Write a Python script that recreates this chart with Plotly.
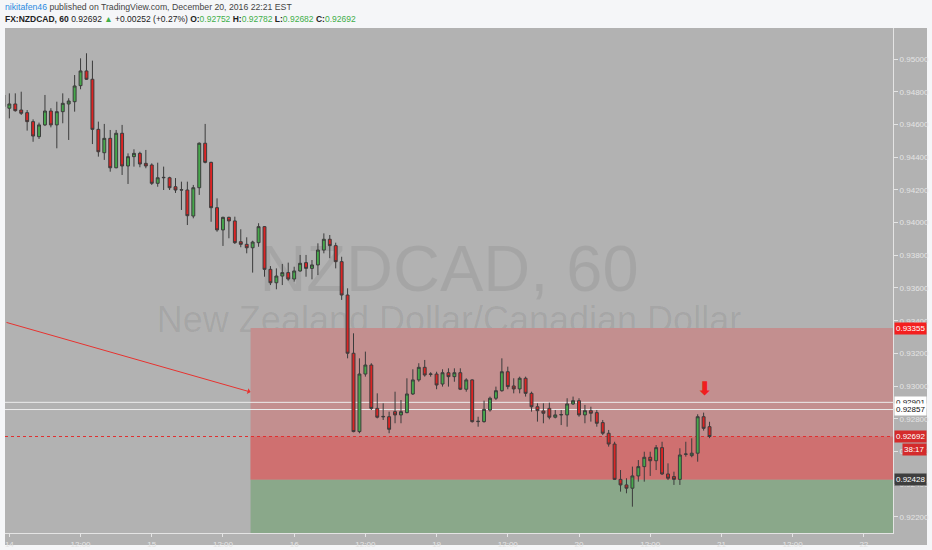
import pandas as pd
import plotly.graph_objects as go

# ---------------- data ----------------
session1 = pd.date_range("2016-12-13 23:00", "2016-12-16 16:00", freq="h")
session2 = pd.date_range("2016-12-18 17:00", "2016-12-20 22:00", freq="h")
times = list(session1) + list(session2)

open_ = [0.94780, 0.94699, 0.94725, 0.94688, 0.94672, 0.94617, 0.94525, 0.94597, 0.94682, 0.94597,
         0.94678, 0.94725, 0.94739, 0.94837, 0.94927, 0.94876, 0.94570, 0.94427, 0.94515, 0.94335,
         0.94546, 0.94346, 0.94403, 0.94423, 0.94362, 0.94352, 0.94240, 0.94274, 0.94274, 0.94219,
         0.94201, 0.94199, 0.94040, 0.94213, 0.94485, 0.94368, 0.94091, 0.93955, 0.94032, 0.94010,
         0.93883, 0.93867, 0.93846, 0.93877, 0.93975, 0.93714, 0.93632, 0.93673, 0.93694, 0.93655,
         0.93704, 0.93755, 0.93720, 0.93741, 0.93832, 0.93898, 0.93859, 0.93761, 0.93557, 0.93201,
         0.92722, 0.93074, 0.93129, 0.92864, 0.92815, 0.92813, 0.92844, 0.92824, 0.92838, 0.92952,
         0.93038, 0.93115, 0.93072, 0.93074, 0.93013, 0.93082, 0.93058, 0.93082, 0.92981, 0.93038,
         0.92783, 0.92783, 0.92854, 0.92926, 0.92972, 0.93088, 0.93001, 0.92983, 0.93048, 0.92956,
         0.92874, 0.92848, 0.92864, 0.92810, 0.92824, 0.92824, 0.92891, 0.92911, 0.92824, 0.92850,
         0.92838, 0.92777, 0.92712, 0.92646, 0.92430, 0.92396, 0.92376, 0.92451, 0.92508, 0.92565,
         0.92544, 0.92624, 0.92463, 0.92447, 0.92430, 0.92583, 0.92575, 0.92590, 0.92813, 0.92752]
high = [0.94792, 0.94790, 0.94790, 0.94800, 0.94688, 0.94631, 0.94611, 0.94780, 0.94699, 0.94739,
        0.94790, 0.94760, 0.94902, 0.95004, 0.95035, 0.94990, 0.94617, 0.94603, 0.94566, 0.94566,
        0.94597, 0.94423, 0.94448, 0.94433, 0.94444, 0.94362, 0.94366, 0.94342, 0.94280, 0.94272,
        0.94250, 0.94250, 0.94230, 0.94490, 0.94603, 0.94372, 0.94148, 0.94036, 0.94036, 0.94036,
        0.93959, 0.93910, 0.93889, 0.93996, 0.93979, 0.93734, 0.93720, 0.93747, 0.93755, 0.93730,
        0.93802, 0.93802, 0.93771, 0.93873, 0.93934, 0.93924, 0.93877, 0.93791, 0.93598, 0.93323,
        0.93170, 0.93211, 0.93140, 0.92956, 0.92895, 0.92844, 0.92966, 0.92915, 0.93048, 0.93103,
        0.93140, 0.93160, 0.93085, 0.93088, 0.93103, 0.93109, 0.93109, 0.93109, 0.93048, 0.93042,
        0.92813, 0.92911, 0.92936, 0.92997, 0.93170, 0.93119, 0.93048, 0.93058, 0.93058, 0.92966,
        0.92895, 0.92895, 0.92899, 0.92854, 0.92854, 0.92926, 0.92936, 0.92926, 0.92885, 0.92874,
        0.92854, 0.92793, 0.92732, 0.92660, 0.92487, 0.92437, 0.92508, 0.92548, 0.92599, 0.92599,
        0.92640, 0.92660, 0.92528, 0.92477, 0.92620, 0.92660, 0.92681, 0.92828, 0.92838, 0.92782]
low = [0.94700, 0.94637, 0.94678, 0.94658, 0.94562, 0.94494, 0.94511, 0.94590, 0.94582, 0.94454,
       0.94607, 0.94505, 0.94678, 0.94815, 0.94872, 0.94480, 0.94403, 0.94383, 0.94311, 0.94332,
       0.94291, 0.94236, 0.94342, 0.94338, 0.94332, 0.94230, 0.94219, 0.94199, 0.94199, 0.94181,
       0.94077, 0.93985, 0.94026, 0.94169, 0.94362, 0.94005, 0.93944, 0.93857, 0.93904, 0.93869,
       0.93849, 0.93812, 0.93694, 0.93852, 0.93669, 0.93618, 0.93592, 0.93618, 0.93645, 0.93639,
       0.93700, 0.93669, 0.93653, 0.93679, 0.93812, 0.93782, 0.93720, 0.93527, 0.93170, 0.92718,
       0.92712, 0.93058, 0.92854, 0.92803, 0.92793, 0.92712, 0.92773, 0.92773, 0.92834, 0.92946,
       0.93027, 0.93058, 0.93058, 0.92981, 0.92997, 0.92997, 0.93027, 0.92976, 0.92966, 0.92777,
       0.92752, 0.92777, 0.92844, 0.92915, 0.92966, 0.92981, 0.92956, 0.92956, 0.92936, 0.92844,
       0.92783, 0.92773, 0.92797, 0.92803, 0.92762, 0.92752, 0.92885, 0.92813, 0.92773, 0.92783,
       0.92752, 0.92701, 0.92630, 0.92426, 0.92355, 0.92345, 0.92263, 0.92416, 0.92416, 0.92451,
       0.92487, 0.92457, 0.92426, 0.92396, 0.92396, 0.92569, 0.92565, 0.92538, 0.92728, 0.92682]
close = [0.94708, 0.94725, 0.94684, 0.94668, 0.94617, 0.94529, 0.94597, 0.94682, 0.94597, 0.94678,
         0.94729, 0.94743, 0.94835, 0.94927, 0.94876, 0.94570, 0.94433, 0.94515, 0.94335, 0.94546,
         0.94346, 0.94403, 0.94423, 0.94358, 0.94346, 0.94240, 0.94274, 0.94276, 0.94213, 0.94199,
         0.94199, 0.94042, 0.94213, 0.94485, 0.94368, 0.94091, 0.93955, 0.94032, 0.94010, 0.93877,
         0.93867, 0.93846, 0.93881, 0.93975, 0.93714, 0.93632, 0.93673, 0.93694, 0.93655, 0.93704,
         0.93751, 0.93720, 0.93741, 0.93832, 0.93898, 0.93859, 0.93761, 0.93557, 0.93201, 0.92722,
         0.93074, 0.93129, 0.92864, 0.92810, 0.92813, 0.92736, 0.92824, 0.92844, 0.92952, 0.93038,
         0.93115, 0.93068, 0.93074, 0.93007, 0.93082, 0.93058, 0.93082, 0.92981, 0.93038, 0.92783,
         0.92785, 0.92858, 0.92926, 0.92972, 0.93088, 0.92997, 0.92983, 0.93048, 0.92956, 0.92874,
         0.92850, 0.92834, 0.92810, 0.92824, 0.92826, 0.92891, 0.92911, 0.92824, 0.92850, 0.92834,
         0.92773, 0.92712, 0.92646, 0.92430, 0.92396, 0.92376, 0.92451, 0.92508, 0.92565, 0.92544,
         0.92624, 0.92463, 0.92437, 0.92430, 0.92579, 0.92585, 0.92590, 0.92813, 0.92742, 0.92692]

tick_times = ["2016-12-14 00:00", "2016-12-14 12:00", "2016-12-15 00:00", "2016-12-15 12:00",
              "2016-12-16 00:00", "2016-12-16 12:00", "2016-12-19 00:00", "2016-12-19 12:00",
              "2016-12-20 00:00", "2016-12-20 12:00", "2016-12-21 00:00", "2016-12-21 12:00",
              "2016-12-22 00:00"]
tick_labels = ["14", "12:00", "15", "12:00", "16", "12:00", "19", "12:00", "20", "12:00",
               "21", "12:00", "22"]
price_ticks = [0.922, 0.924, 0.926, 0.928, 0.930, 0.932, 0.934, 0.936, 0.938, 0.940,
               0.942, 0.944, 0.946, 0.948, 0.950]

stop_price = 0.93355
level_a = 0.92901
level_b = 0.92857
last_price = 0.92692
entry_price = 0.92428
target_price = 0.91800
countdown = "38:17"
zone_start = "2016-12-15 16:39"
zone_end = "2016-12-23 00:00"
trend_from = ("2016-12-13 23:16", 0.93392)
trend_to = ("2016-12-15 16:39", 0.92964)
signal_at = ("2016-12-20 21:10", 0.92990)

x_range = ["2016-12-13 23:16", "2016-12-22 04:55"]
y_range = [0.921021, 0.951895]

# ---------------- figure ----------------
BG = "#b2b2b2"
AXC = "#e4e4e4"
FONT = "Liberation Sans"

fig = go.Figure()
fig.add_trace(go.Candlestick(
    x=times, open=open_, high=high, low=low, close=close,
    increasing=dict(fillcolor="#46a84b", line=dict(color="#3c3c3c", width=1)),
    decreasing=dict(fillcolor="#dc2424", line=dict(color="#3c3c3c", width=1)),
    whiskerwidth=0, hoverinfo="skip", showlegend=False))

shapes = [
    dict(type="rect", xref="paper", yref="paper", x0=0, x1=1.0383, y0=-0.0238, y1=1,
         fillcolor=BG, line=dict(width=0), layer="below"),
    dict(type="rect", xref="paper", yref="paper", x0=0.2, x1=0.8, y0=0.4847, y1=0.5847,
         line=dict(width=0), fillcolor="rgba(0,0,0,0)", layer="below",
         label=dict(text="NZDCAD, 60", textposition="middle center",
                    font=dict(size=65, color="rgba(0,0,0,0.07)", family=FONT))),
    dict(type="rect", xref="paper", yref="paper", x0=0.1, x1=0.9, y0=0.3997, y1=0.4597,
         line=dict(width=0), fillcolor="rgba(0,0,0,0)", layer="below",
         label=dict(text="New Zealand Dollar/Canadian Dollar", textposition="middle center",
                    font=dict(size=36, color="rgba(0,0,0,0.07)", family=FONT))),
    dict(type="rect", xref="x", yref="y", x0=zone_start, x1=zone_end,
         y0=entry_price, y1=stop_price, fillcolor="#c38f8f", line=dict(width=0), layer="below"),
    dict(type="rect", xref="x", yref="y", x0=zone_start, x1=zone_end,
         y0=entry_price, y1=last_price, fillcolor="#cf7070", line=dict(width=0), layer="below"),
    dict(type="rect", xref="x", yref="y", x0=zone_start, x1=zone_end,
         y0=target_price, y1=entry_price, fillcolor="#8aa88a", line=dict(width=0), layer="below"),
    dict(type="line", xref="x", yref="y", x0=x_range[0], x1=zone_end, y0=level_a, y1=level_a,
         line=dict(color="#ececec", width=1), layer="below"),
    dict(type="line", xref="x", yref="y", x0=x_range[0], x1=zone_end, y0=level_b, y1=level_b,
         line=dict(color="#ececec", width=1), layer="below"),
    dict(type="line", xref="x", yref="y", x0=x_range[0], x1=zone_end, y0=last_price, y1=last_price,
         line=dict(color="#e03030", width=1, dash="dot"), layer="below"),
]

def price_box(price, bg, fg, text=None):
    return dict(xref="paper", yref="y", x=1, y=price, xanchor="left", yanchor="middle",
                xshift=1, text=text or f"{price:.5f}", showarrow=False,
                font=dict(size=8, color=fg, family=FONT), bgcolor=bg, borderpad=1)

G = "#3fae49"
annotations = [
    price_box(stop_price, "#f41f1f", "white"),
    price_box(level_a, "#ffffff", "#111111"),
    price_box(level_b, "#ffffff", "#111111"),
    price_box(last_price, "#d42b2b", "white"),
    price_box(entry_price, "#3e3e3e", "white"),
    dict(xref="paper", yref="y", x=1.0383, y=last_price, xanchor="right", yanchor="top",
         yshift=-6, text=countdown, showarrow=False,
         font=dict(size=8, color="white", family=FONT), bgcolor="#d42b2b", borderpad=1),
    dict(xref="x", yref="y", axref="x", ayref="y", x=trend_to[0], y=trend_to[1],
         ax=trend_from[0], ay=trend_from[1], text="", showarrow=True,
         arrowhead=1, arrowsize=1, arrowwidth=1, arrowcolor="#e8322f"),
    dict(xref="x", yref="y", x=signal_at[0], y=signal_at[1], text="<b>⬇</b>", showarrow=False,
         font=dict(size=19, color="#f01e1e", family="DejaVu Sans")),
    dict(xref="paper", yref="paper", x=0, y=1, xanchor="left", yanchor="middle",
         xshift=-2, yshift=21, showarrow=False, align="left",
         text="<span style='color:#2a8ae0'>nikitafen46</span> published on TradingView.com, December 20, 2016 22:21 EST",
         font=dict(size=8.7, color="#444444", family=FONT)),
    dict(xref="paper", yref="paper", x=0, y=1, xanchor="left", yanchor="middle",
         xshift=-2, yshift=9, showarrow=False, align="left",
         text=("<b>FX:NZDCAD, 60</b> 0.92692 <span style='color:" + G + "'>▲</span> +0.00252 (+0.27%) "
               "<b>O:</b><span style='color:" + G + "'>0.92752</span> "
               "<b>H:</b><span style='color:" + G + "'>0.92782</span> "
               "<b>L:</b><span style='color:" + G + "'>0.92682</span> "
               "<b>C:</b><span style='color:" + G + "'>0.92692</span>"),
         font=dict(size=8.5, color="#222222", family=FONT)),
]

fig.update_layout(
    width=932, height=550,
    margin=dict(l=5, r=39, t=28, b=17, autoexpand=False),
    paper_bgcolor="#f5f6f8", plot_bgcolor=BG,
    showlegend=False,
    shapes=shapes, annotations=annotations,
    xaxis=dict(range=x_range, rangeslider=dict(visible=False), automargin=False,
               rangebreaks=[dict(bounds=["2016-12-16 17:00", "2016-12-18 17:00"])],
               tickvals=tick_times, ticktext=tick_labels,
               ticks="outside", ticklen=3, tickcolor=AXC,
               tickfont=dict(size=8, color=AXC, family=FONT),
               showgrid=False, zeroline=False, showline=True, linecolor=AXC, linewidth=1),
    yaxis=dict(range=y_range, side="right", tickvals=price_ticks, tickformat=".5f",
               automargin=False,
               ticks="outside", ticklen=4, tickcolor=AXC,
               tickfont=dict(size=8, color=AXC, family=FONT),
               showgrid=False, zeroline=False, showline=True, linecolor=AXC, linewidth=1),
)

fig.write_html("out.html", config={"displayModeBar": False},
               post_script="document.body.style.margin='0px';document.body.style.overflow='hidden';")
